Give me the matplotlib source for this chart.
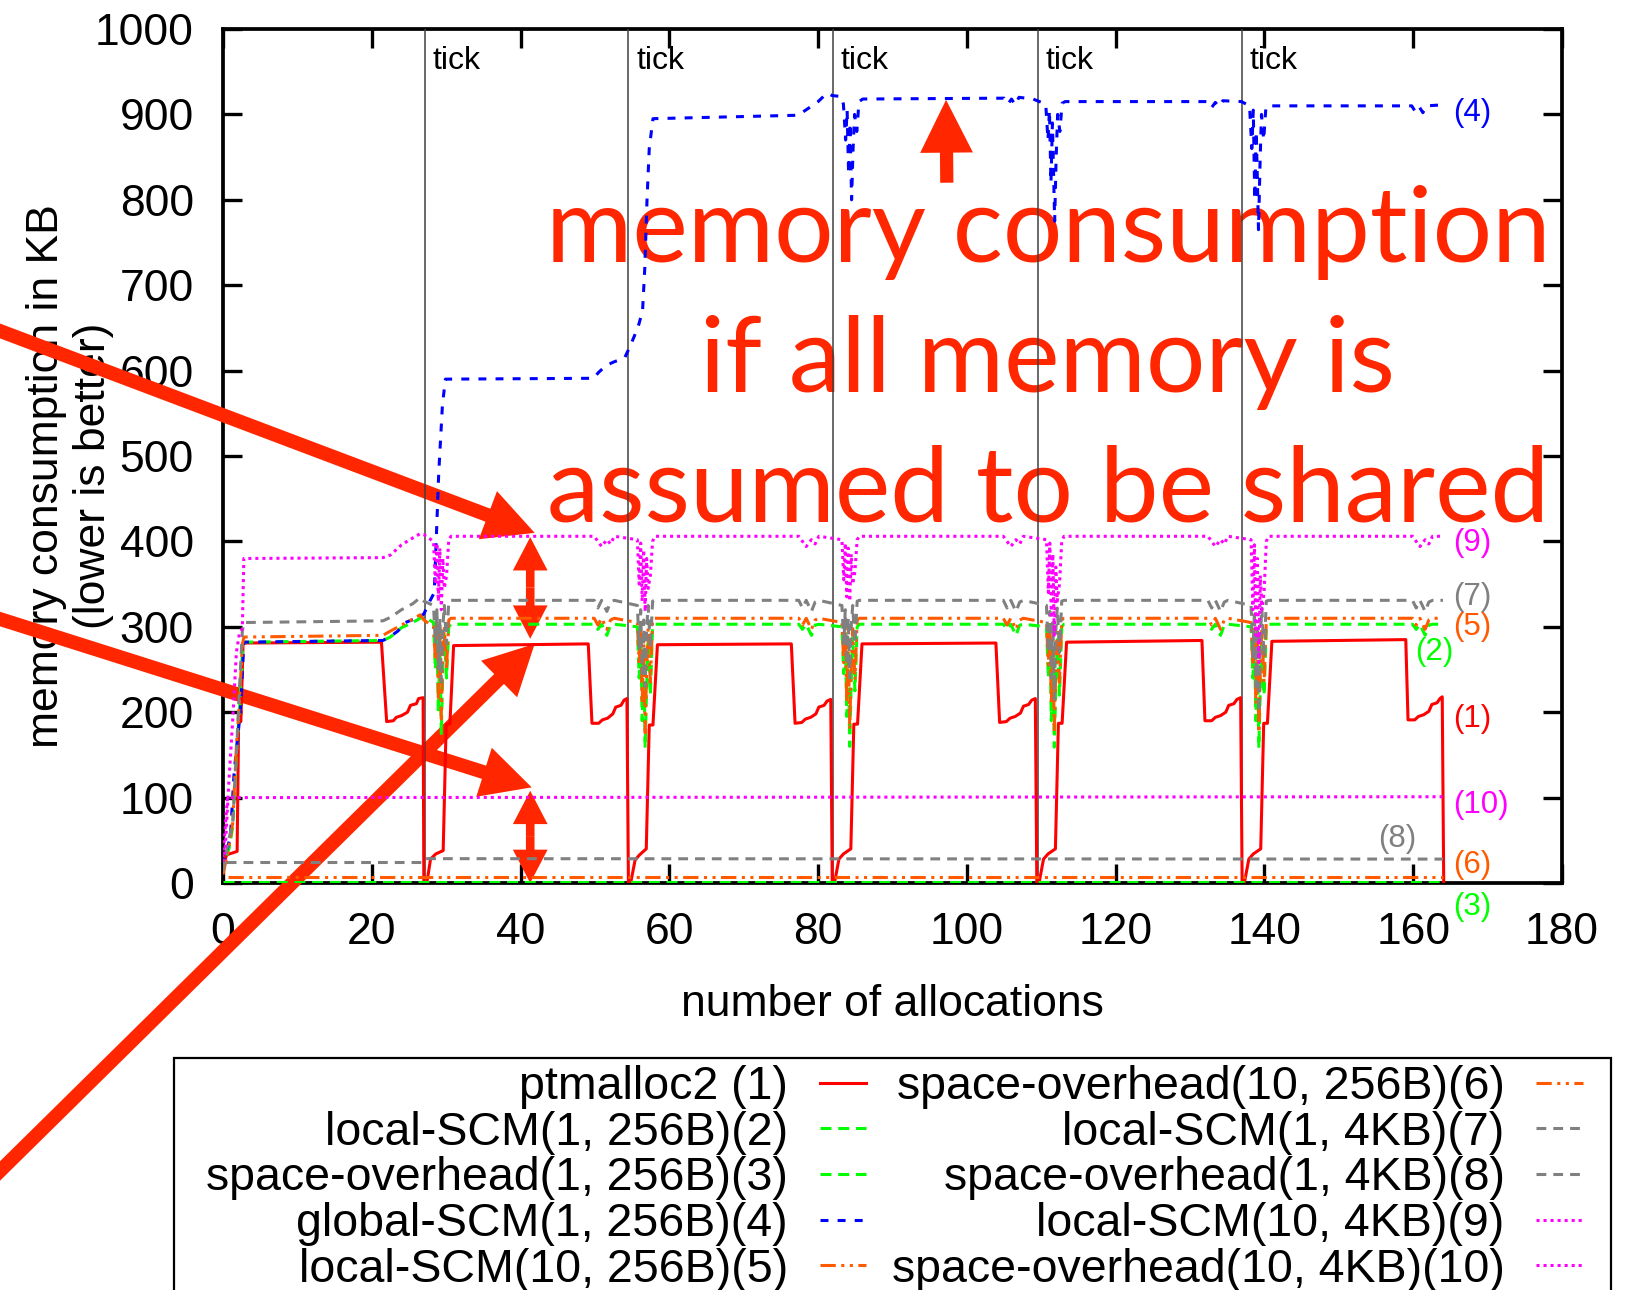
import matplotlib
matplotlib.use('Agg')
import matplotlib.pyplot as plt
from matplotlib.patches import Rectangle

# ---------------- data ----------------
tick_marks = [27.1, 54.5, 82.0, 109.5, 137.0]

# (1) ptmalloc2
x1 = [0, 0.3, 0.5, 1.9, 2.1, 2.4, 2.7, 21.3, 22.0, 22.9, 23.3, 24.0, 24.8, 25.2, 26.0, 26.3, 26.9, 27.0,
      27.4, 27.9, 28.6, 29.6, 30.0, 30.5, 31.0, 49.1, 49.6, 50.5, 51.0, 51.7, 52.4, 52.8, 53.5, 53.9, 54.3, 54.5,
      54.8, 55.4, 56.0, 56.9, 57.3, 57.8, 58.4, 76.4, 76.9, 77.8, 78.3, 79.0, 79.7, 80.1, 80.8, 81.2, 81.7, 81.9,
      82.2, 82.8, 83.4, 84.4, 84.8, 85.3, 85.9, 103.9, 104.4, 105.3, 105.8, 106.5, 107.2, 107.6, 108.3, 108.7, 109.2, 109.4,
      109.7, 110.3, 110.9, 111.9, 112.3, 112.8, 113.4, 131.6, 132.0, 132.9, 133.4, 134.1, 134.8, 135.2, 135.9, 136.3, 136.8, 137.0,
      137.3, 137.9, 138.5, 139.5, 139.9, 140.4, 141.0, 159.0, 159.3, 160.2, 160.7, 161.4, 162.1, 162.5, 163.2, 163.6, 163.9, 164.1]
y1 = [18, 28, 33, 37, 189, 189, 281, 282, 189, 190, 194, 196, 200, 208, 210, 216, 217, 0,
      0, 28, 34, 38, 186, 186, 278, 280, 187, 187, 191, 193, 198, 206, 208, 214, 216, 0,
      0, 27, 33, 40, 185, 185, 279, 280, 187, 188, 192, 194, 198, 206, 208, 213, 215, 0,
      0, 28, 34, 40, 186, 186, 280, 281, 188, 189, 193, 195, 199, 207, 209, 214, 216, 0,
      0, 28, 34, 40, 187, 187, 282, 284, 190, 190, 194, 196, 200, 208, 210, 215, 217, 0,
      0, 28, 34, 40, 187, 187, 283, 285, 191, 191, 195, 197, 201, 209, 211, 216, 218, 0]

# (4) global-SCM(1, 256B)
x4 = [0, 0.3, 1.0, 1.5, 2.2, 2.4, 2.8, 21.5, 22.4, 23.5, 24.5, 26.3, 27.0, 27.8, 28.4, 29.0, 29.5, 29.9,
      49.8, 50.5, 51.5, 52.5, 54.0, 54.8, 55.8, 56.4, 56.7, 57.0, 57.3, 57.8,
      77.3, 78.5, 80.0, 81.2, 81.9,
      83.1, 83.4, 83.7, 83.9, 84.1, 84.3, 84.5, 84.7, 84.9, 85.2, 85.5, 86.0,
      105.0, 105.5, 106.0, 106.5, 107.0, 108.9,
      110.6, 110.9, 111.1, 111.3, 111.5, 111.8, 112.0, 112.2, 112.5, 112.8, 113.2,
      132.4, 132.9, 133.4, 133.9, 134.4, 136.9,
      138.0, 138.3, 138.5, 138.7, 138.9, 139.2, 139.4, 139.6, 139.9, 140.2, 140.6,
      159.8, 160.3, 160.8, 161.3, 161.8, 163.6]
y4 = [20, 30, 55, 130, 190, 210, 282, 284, 288, 295, 305, 311, 315, 330, 340, 480, 560, 590,
      591, 598, 606, 610, 615, 630, 651, 670, 720, 800, 860, 895,
      899, 906, 915, 925, 922,
      921, 912, 870, 905, 830, 890, 800, 860, 900, 880, 915, 918,
      919, 912, 918, 911, 920, 918,
      912, 870, 905, 820, 890, 775, 850, 900, 880, 913, 915,
      915, 908, 914, 909, 916, 915,
      910, 860, 905, 800, 880, 765, 840, 900, 870, 909, 910,
      910, 903, 909, 902, 910, 911]

# shared sample positions for (2), (5), (7), (9)
xs = [0, 0.3, 0.8, 1.3, 1.8, 2.2, 2.6, 2.8, 21.5, 22.5, 24.0, 25.5, 26.5, 27.0,
      28.3, 28.55, 28.75, 28.95, 29.15, 29.35, 29.55, 29.75, 30.05, 30.35, 30.65,
      49.9, 50.4, 50.9, 51.6, 52.1, 52.6,
      55.7, 55.95, 56.15, 56.35, 56.55, 56.75, 56.95, 57.15, 57.45, 57.75, 58.05,
      77.4, 77.9, 78.4, 79.1, 79.6, 80.1,
      83.2, 83.45, 83.65, 83.85, 84.05, 84.25, 84.45, 84.65, 84.95, 85.25, 85.55,
      104.9, 105.4, 105.9, 106.6, 107.1, 107.6,
      110.7, 110.95, 111.15, 111.35, 111.55, 111.75, 111.95, 112.15, 112.45, 112.75, 113.05,
      132.4, 132.9, 133.4, 134.1, 134.6, 135.1,
      138.2, 138.45, 138.65, 138.85, 139.05, 139.25, 139.45, 139.65, 139.95, 140.25, 140.55,
      159.9, 160.4, 160.9, 161.6, 162.1, 162.6,
      164.0]
# (2) local-SCM(1, 256B)
y2 = [12, 28, 40, 65, 150, 200, 268, 282, 284, 288, 299, 305, 310, 312,
      305, 250, 295, 200, 280, 175, 255, 290, 240, 300, 303,
      303, 297, 303, 290, 302, 303,
      300, 240, 290, 190, 270, 158, 230, 285, 220, 300, 303,
      303, 297, 303, 290, 302, 303,
      300, 245, 292, 195, 272, 160, 235, 288, 225, 300, 303,
      303, 297, 303, 290, 302, 303,
      300, 240, 290, 190, 270, 159, 230, 285, 220, 300, 303,
      303, 297, 303, 290, 302, 303,
      300, 240, 290, 190, 270, 158, 230, 285, 220, 300, 303,
      303, 297, 303, 290, 302, 303,
      303]
# (5) local-SCM(10, 256B)
y5 = [10, 22, 42, 70, 160, 210, 278, 288, 290, 295, 302, 309, 314, 308,
      300, 262, 305, 215, 290, 192, 270, 300, 250, 308, 310,
      310, 302, 310, 297, 308, 310,
      305, 255, 300, 210, 285, 176, 250, 298, 235, 308, 310,
      310, 302, 310, 297, 308, 310,
      305, 258, 300, 212, 285, 180, 252, 298, 238, 308, 310,
      310, 302, 310, 297, 308, 310,
      305, 255, 300, 210, 285, 178, 250, 298, 235, 308, 310,
      310, 302, 310, 297, 308, 310,
      305, 255, 300, 210, 285, 176, 250, 298, 235, 308, 310,
      310, 302, 310, 297, 308, 310,
      310]
# (7) local-SCM(1, 4KB)
y7 = [14, 30, 52, 70, 150, 225, 295, 305, 307, 311, 320, 327, 334, 330,
      325, 280, 320, 250, 310, 235, 300, 325, 280, 330, 331,
      331, 322, 331, 318, 329, 331,
      325, 275, 320, 245, 308, 230, 298, 325, 275, 330, 331,
      331, 322, 331, 318, 329, 331,
      325, 280, 320, 255, 310, 240, 300, 325, 280, 330, 331,
      331, 322, 331, 318, 329, 331,
      325, 270, 318, 240, 305, 215, 295, 322, 270, 330, 331,
      331, 322, 331, 318, 329, 331,
      325, 265, 318, 230, 300, 200, 290, 322, 265, 330, 331,
      331, 322, 331, 318, 329, 331,
      331]
# (9) local-SCM(10, 4KB)
y9 = [25, 40, 120, 190, 270, 292, 298, 380, 381, 384, 396, 404, 409, 408,
      400, 350, 398, 330, 392, 320, 380, 345, 360, 402, 406,
      406, 400, 394, 402, 397, 406,
      402, 350, 398, 330, 390, 318, 380, 345, 360, 400, 406,
      406, 400, 394, 402, 397, 406,
      402, 355, 398, 335, 392, 330, 385, 350, 365, 402, 406,
      406, 400, 394, 402, 397, 406,
      402, 340, 398, 310, 385, 290, 370, 330, 350, 400, 406,
      406, 400, 394, 402, 397, 406,
      402, 320, 396, 290, 380, 258, 360, 320, 340, 400, 406,
      406, 400, 394, 402, 397, 406,
      406]

# flat "space-overhead" series
x3 = [0, 164.2]
y3 = [1.5, 1.5]
x6 = [0.7, 164.0]
y6 = [7, 7]
x8 = [0.5, 27.0, 27.3, 164.0]
y8 = [24, 24, 28.5, 28]
x10 = [0, 0.6, 164.0]
y10 = [30, 100, 101]

labels = ['ptmalloc2 (1)', 'local-SCM(1, 256B)(2)', 'space-overhead(1, 256B)(3)',
          'global-SCM(1, 256B)(4)', 'local-SCM(10, 256B)(5)', 'space-overhead(10, 256B)(6)',
          'local-SCM(1, 4KB)(7)', 'space-overhead(1, 4KB)(8)', 'local-SCM(10, 4KB)(9)',
          'space-overhead(10, 4KB)(10)']

RED = '#ff0000'
GREEN = '#00ff00'
BLUE = '#0000ff'
MAG = '#ff00ff'
GRAY = '#808080'
ORANGE = '#ff5a00'
ANNO = '#ff2600'

plt.rcParams['font.family'] = ['Liberation Sans', 'DejaVu Sans']

fig = plt.figure(figsize=(16.32, 12.9), dpi=100)
ax = fig.add_axes([223 / 1632, 1 - 883 / 1290, 1339 / 1632, 854 / 1290])

lw = 2.2
dash_g = (0, (3.6, 2.2))
dash_b = (0, (2.6, 3.0))
dash_o = (0, (5, 1.8, 1, 1.8, 1, 1.8))
dash_k = (0, (3.2, 2.3))
dots = (0, (1, 1.3))

series = [
    (x1, y1, RED, '-'),
    (xs, y2, GREEN, dash_g),
    (x3, y3, GREEN, dash_g),
    (x4, y4, BLUE, dash_b),
    (xs, y5, ORANGE, dash_o),
    (x6, y6, ORANGE, dash_o),
    (xs, y7, GRAY, dash_k),
    (x8, y8, GRAY, dash_k),
    (xs, y9, MAG, dots),
    (x10, y10, MAG, dots),
]
handles = []
for (x, y, c, ls), lab in zip(series, labels):
    h, = ax.plot(x, y, color=c, ls=ls, lw=lw, label=lab, zorder=3)
    handles.append(h)

# vertical "tick" markers
for t in tick_marks:
    ax.axvline(t, color='#404040', lw=1.1, zorder=2.8)
    ax.text(t + 1.05, 953, 'tick', fontsize=23, ha='left', va='baseline', zorder=3)

# end-of-line labels
end_labels = [('(4)', 165.3, 902, BLUE), ('(9)', 165.3, 398, MAG), ('(7)', 165.3, 335, GRAY),
              ('(5)', 165.3, 300, ORANGE), ('(2)', 160.2, 271, GREEN), ('(1)', 165.3, 192, RED),
              ('(10)', 165.3, 91, MAG), ('(8)', 155.3, 52, GRAY), ('(6)', 165.3, 21, ORANGE),
              ('(3)', 165.3, -28, GREEN)]
for s, x, y, c in end_labels:
    ax.text(x, y, s, color=c, fontsize=22.5, ha='left', va='center', zorder=3)

ax.set_xlim(0, 180)
ax.set_ylim(0, 1000)
ax.set_xticks(range(0, 181, 20))
ax.set_yticks(range(0, 1001, 100))
ax.tick_params(direction='in', length=14, width=2.4, top=True, right=True,
               labelsize=32, pad=21)
for sp in ax.spines.values():
    sp.set_linewidth(2.7)

ax.set_xlabel('number of allocations', fontsize=32)
ax.xaxis.set_label_coords(0.5, -0.118)
ax.set_ylabel('memory consumption in KB\n(lower is better)', fontsize=32, linespacing=1.19)
ax.yaxis.set_label_coords(-0.0811, 0.4766)

# legend (frame drawn separately, its bottom runs off the page)
leg = fig.legend(handles=handles, labels=labels, ncol=2, markerfirst=False,
                 loc='upper left', bbox_to_anchor=(206 / 1632, 1 - 1065 / 1290),
                 frameon=False, fontsize=33.5, borderpad=0, borderaxespad=0,
                 handlelength=1.0, handletextpad=0.68, columnspacing=0.55,
                 labelspacing=0.035)
fig.add_artist(Rectangle((174 / 1632, -0.02), (1611 - 174) / 1632, 0.02 + 1 - 1058 / 1290,
                         transform=fig.transFigure, fill=False, ec='black', lw=1.6))

# ---------------- red overlay annotations ----------------
big = dict(fontsize=75.6, family=['Lato', 'DejaVu Sans'], color=ANNO, ha='center',
           va='baseline', zorder=2.6)
ax.text(110.9, 727, 'memory consumption', **big)
ax.text(110.9, 575, 'if all memory is', **big)
ax.text(110.9, 423, 'assumed to be shared', **big)


def arrow(tip, tail, coords, tw, hw, hl):
    ax.annotate('', xy=tip, xycoords='data', xytext=tail, textcoords=coords,
                arrowprops=dict(arrowstyle=f'simple,head_length={hl},head_width={hw},tail_width={tw}',
                                mutation_scale=10, fc=ANNO, ec='none', lw=0,
                                shrinkA=0, shrinkB=0),
                annotation_clip=False, zorder=2.6)


# long pointers coming in from the left edge
arrow((41.9, 410), (-20, 966.6), 'figure pixels', 1.0, 3.7, 3.6)
arrow((41.5, 112), (-20, 677.3), 'figure pixels', 1.0, 3.7, 3.6)
arrow((41.9, 280), (-20, 99.3), 'figure pixels', 1.0, 3.7, 3.6)
# double-headed gaps
arrow((41.3, 405), (41.3, 346), 'data', 0.62, 2.5, 2.4)
arrow((41.3, 286), (41.3, 346), 'data', 0.62, 2.5, 2.4)
arrow((41.3, 108), (41.3, 54), 'data', 0.62, 2.5, 2.4)
arrow((41.3, 0), (41.3, 54), 'data', 0.62, 2.5, 2.4)
# upward arrow to global-SCM level
arrow((97.2, 917), (97.3, 820), 'data', 0.95, 3.8, 3.8)

fig.savefig('out.png', dpi=100)
